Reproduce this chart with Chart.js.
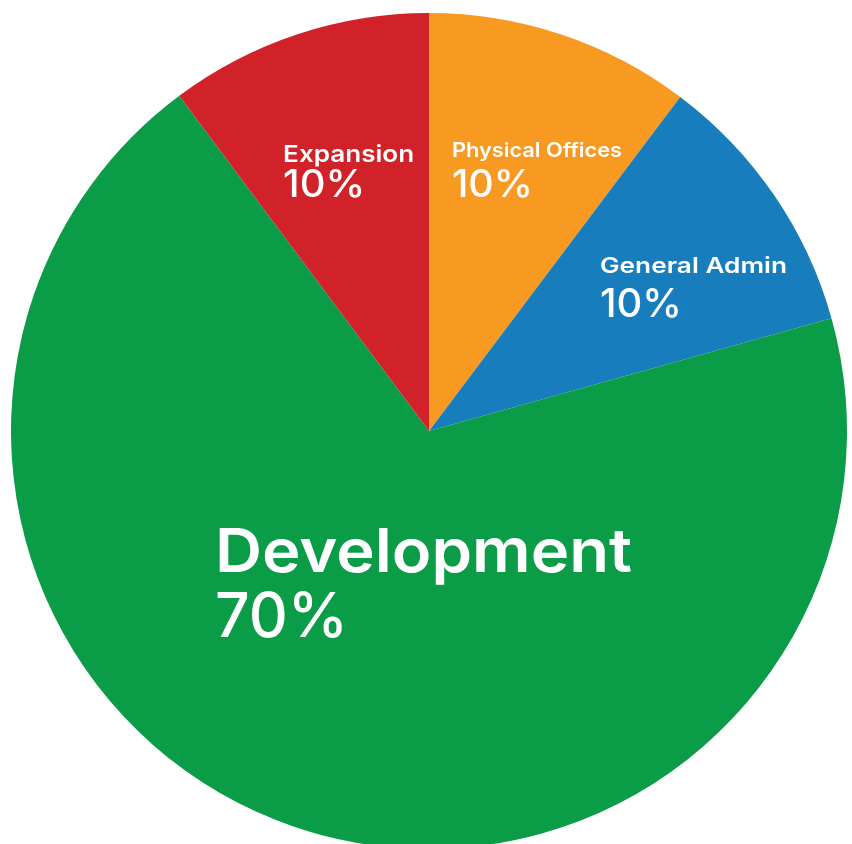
<!DOCTYPE html>
<html>
<head>
<meta charset="utf-8">
<script src="https://cdn.jsdelivr.net/npm/chart.js@4"></script>
<style>
html,body{margin:0;padding:0;background:#fff;overflow:hidden;}
#wrap{position:relative;width:852px;height:862px;}
</style>
</head>
<body>
<div id="wrap"><canvas id="c"></canvas></div>
<script>
// Data (clockwise from 12 o'clock)
const categories = ['Physical Offices', 'General Admin', 'Development', 'Expansion'];
const values = [10.26, 10.39, 69.16, 10.19]; // slice sizes
const percentLabels = ['10%', '10%', '70%', '10%'];
const colors = ['#F89A22', '#187DBD', '#0A9C47', '#D12229'];

// label layout: offsets relative to pie centre in units of radius, sizes/widths in px
const labelLayout = [
  {dx: 0.055, dy: -0.655, nameSize: 20, nameW: 170, pctSize: 38, pctW: 81, gap: 40},
  {dx: 0.409, dy: -0.377, nameSize: 22, nameW: 187, pctSize: 40, pctW: 82, gap: 44},
  {dx: -0.512, dy: 0.337, nameSize: 60, nameW: 417, pctSize: 62, pctW: 133, gap: 65},
  {dx: -0.349, dy: -0.643, nameSize: 23, nameW: 131, pctSize: 38, pctW: 82, gap: 35}
];

function drawStretched(ctx, text, x, y, weight, size, width) {
  ctx.font = weight + ' ' + size + 'px Inter';
  const w = ctx.measureText(text).width;
  const sx = width / w;
  ctx.save();
  ctx.translate(x, y);
  ctx.scale(sx, 1);
  ctx.fillText(text, 0, 0);
  ctx.restore();
}

const labelPlugin = {
  id: 'sliceLabels',
  afterDatasetsDraw(chart) {
    const ctx = chart.ctx;
    const meta = chart.getDatasetMeta(0);
    ctx.save();
    ctx.fillStyle = '#ffffff';
    ctx.textAlign = 'left';
    ctx.textBaseline = 'alphabetic';
    meta.data.forEach((arc, i) => {
      const L = labelLayout[i];
      const r = arc.outerRadius;
      const x = arc.x + L.dx * r;
      const y = arc.y + L.dy * r;
      drawStretched(ctx, categories[i], x, y, 600, L.nameSize, L.nameW);
      drawStretched(ctx, percentLabels[i], x, y + L.gap, 500, L.pctSize, L.pctW);
    });
    ctx.restore();
  }
};

new Chart(document.getElementById('c'), {
  type: 'pie',
  data: {
    labels: categories,
    datasets: [{
      data: values,
      backgroundColor: colors,
      borderWidth: 0
    }]
  },
  options: {
    responsive: true,
    maintainAspectRatio: false,
    animation: false,
    layout: {padding: {left: 11, right: 5, top: 13, bottom: 13}},
    plugins: {legend: {display: false}, tooltip: {enabled: false}}
  },
  plugins: [labelPlugin]
});
</script>
</body>
</html>
